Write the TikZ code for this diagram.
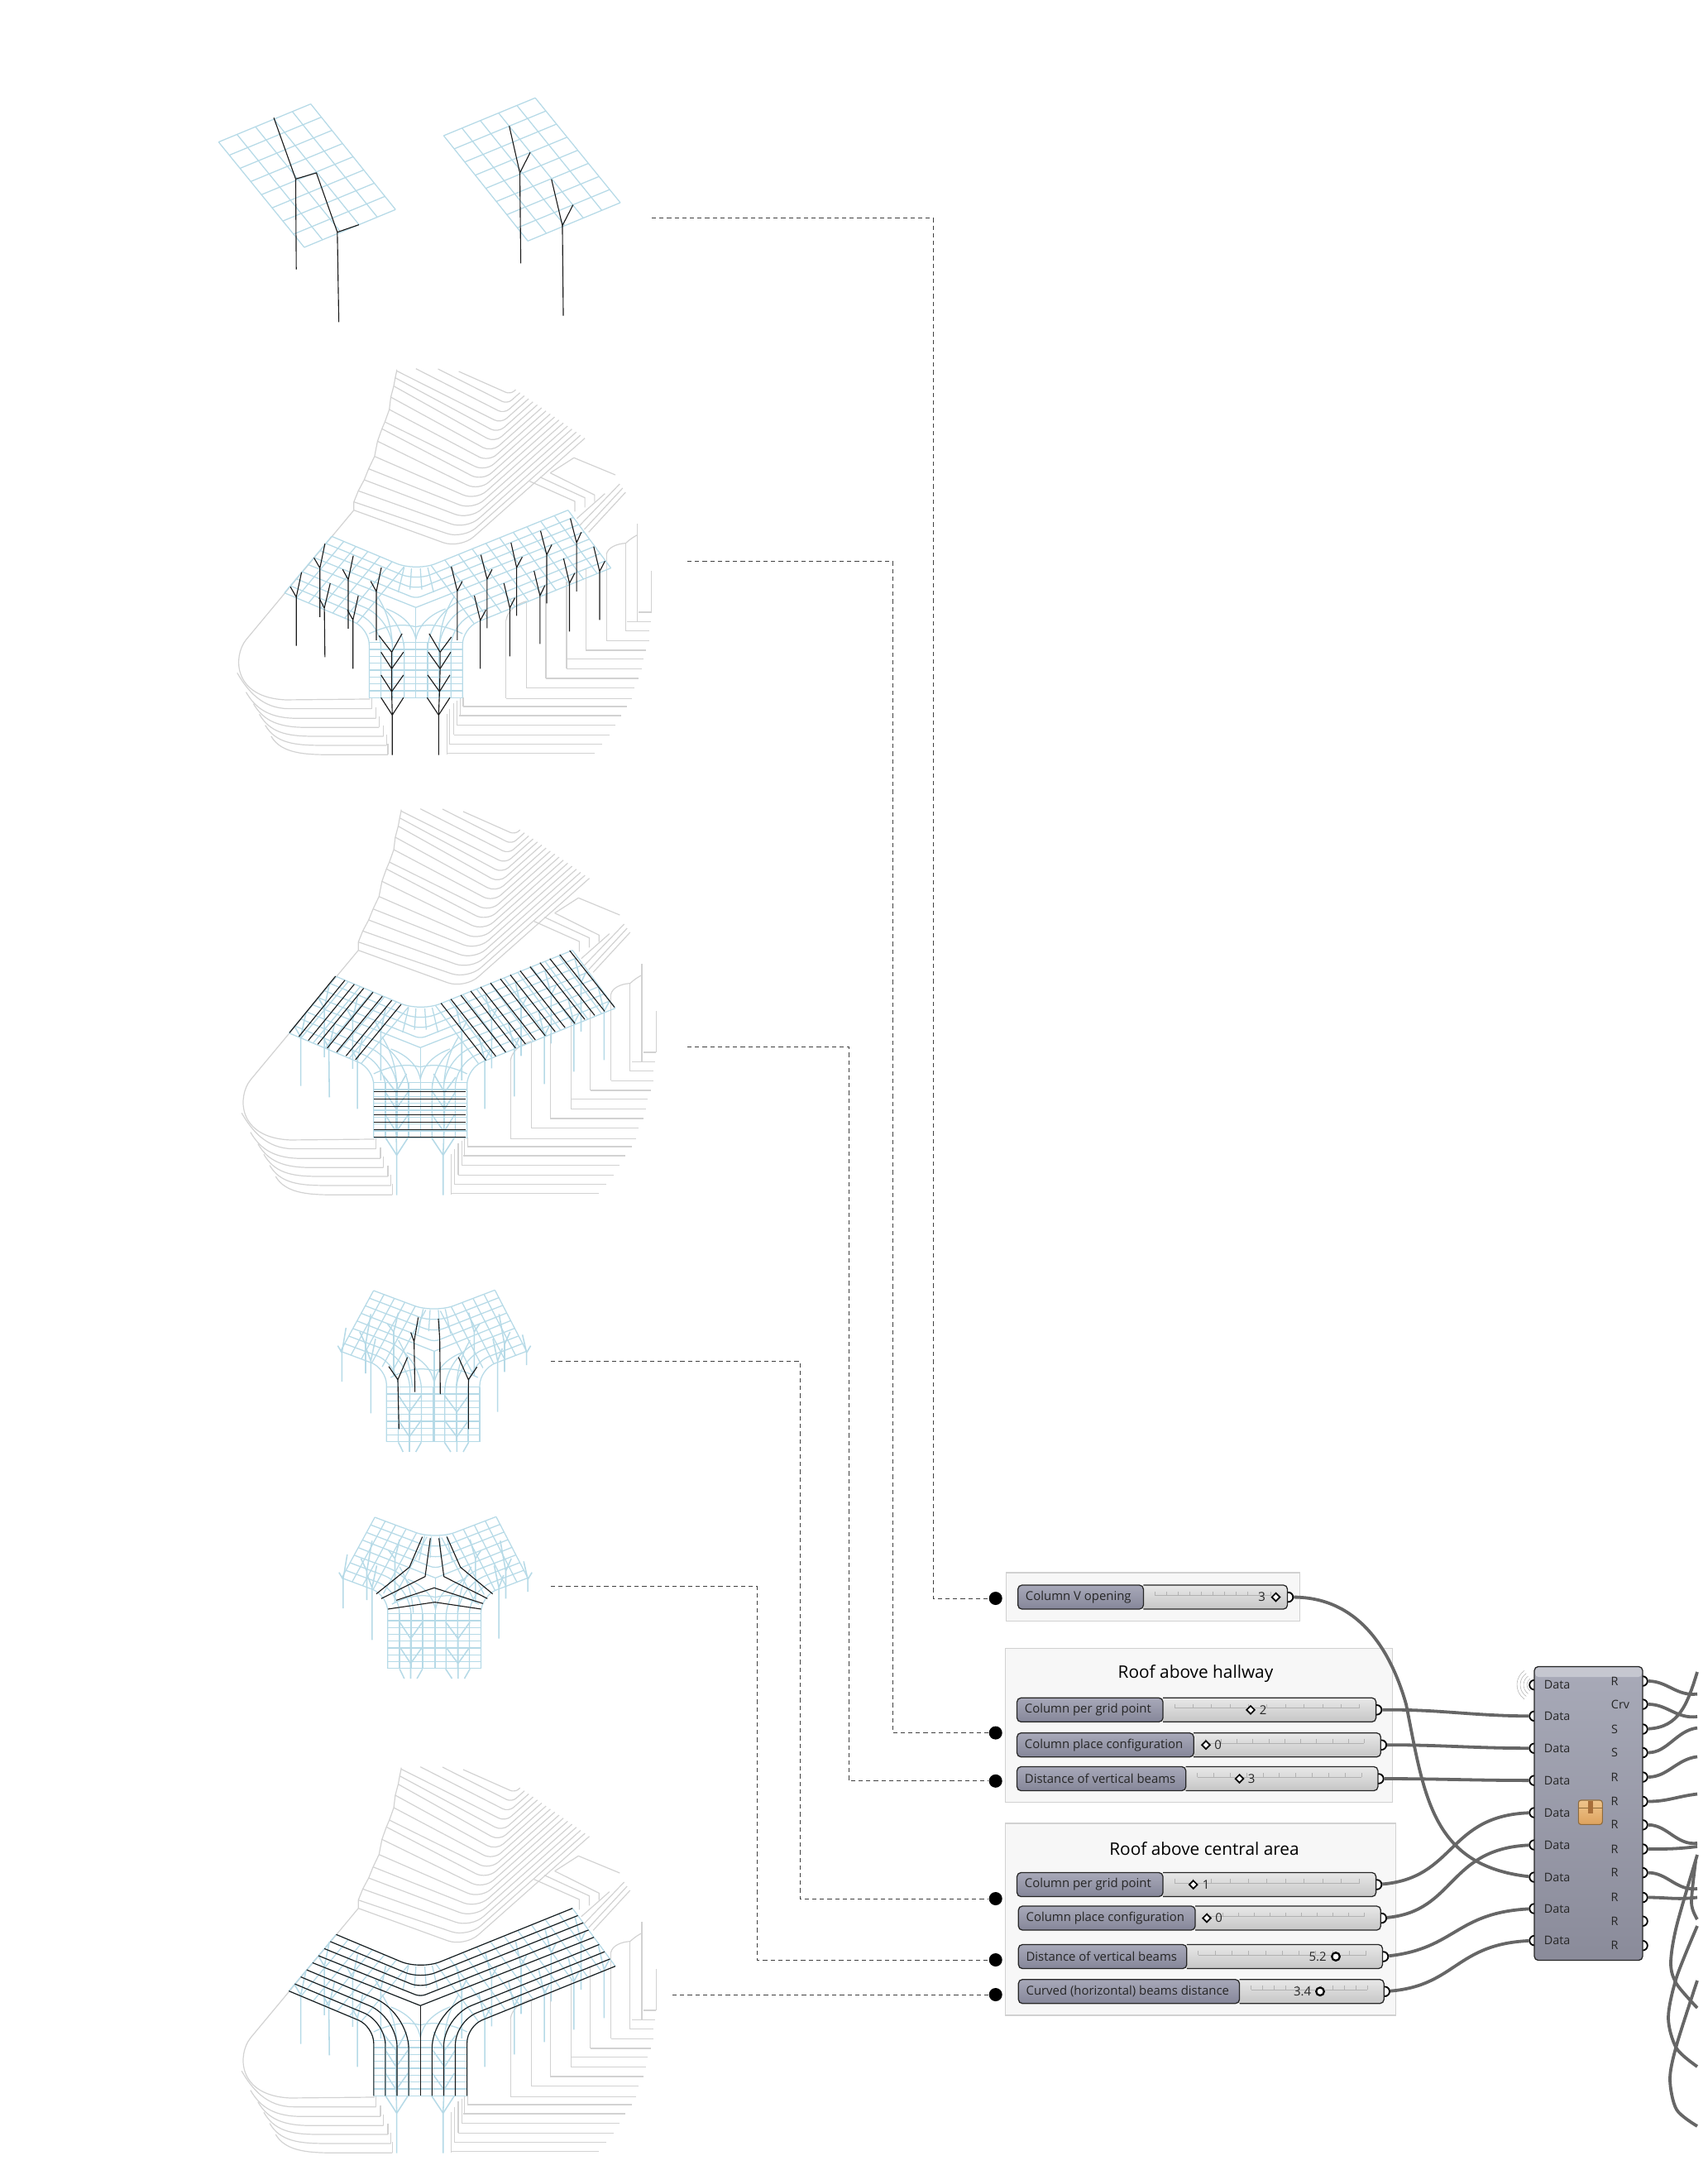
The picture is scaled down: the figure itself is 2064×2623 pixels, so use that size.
\documentclass[tikz,border=0pt]{standalone}
\usepackage{fontspec}
\setmainfont{Open Sans}
\usetikzlibrary{calc,shapes.geometric}
\definecolor{planGray}{HTML}{D2D2D2}
\definecolor{roofBlue}{HTML}{B6DAE7}
\definecolor{beamBlack}{HTML}{1A1A1A}
\definecolor{wireGray}{HTML}{666666}
\definecolor{labelTop}{HTML}{A8A9B9}
\definecolor{labelLow}{HTML}{858699}
\definecolor{bodyTop}{HTML}{E8E8E8}
\definecolor{bodyLow}{HTML}{C6C6C6}
\definecolor{clusterTop}{HTML}{A8AAB8}
\definecolor{clusterLow}{HTML}{8A8B9A}
\definecolor{boxTop}{HTML}{EFC58C}
\definecolor{boxLow}{HTML}{DDA25E}
\definecolor{boxEdge}{HTML}{8F6B3C}
\definecolor{boxTape}{HTML}{A86F3A}
\tikzset{
  plan/.style={planGray,line width=0.85pt},
  roof/.style={roofBlue,line width=0.9pt},
  beam/.style={beamBlack,line width=0.8pt},
  column/.style={roofBlue,line width=1.1pt},
  dashline/.style={black!75,line width=0.5pt,dash pattern=on 1.3mm off 1mm},
  dot/.style={circle,fill=black,inner sep=0,minimum size=4mm},
  wire/.style={wireGray,line width=0.95mm},
  port/.style={circle,draw=black,line width=1.3pt,fill=white,inner sep=0,minimum size=2.9mm},
  group/.style={draw=black!18,fill=black!3,line width=0.8pt},
  label/.style={font=\fontsize{10.6}{12}\selectfont,text=black!85,inner sep=0},
  titlelabel/.style={font=\fontsize{14.8}{17}\selectfont,text=black,inner sep=0},
  portlabel/.style={font=\fontsize{10.2}{12}\selectfont,text=black!85,inner sep=0},
  bigview/.style={xscale=0.3571,yscale=0.3333},
  smallview/.style={xscale=0.3333,yscale=0.3333},
  handle/.style={draw=black,line width=1.2pt,fill=white,inner sep=0},
}

% shape of the roof: arm corners, then valley and leg
\newcommand{\setarms}[8]{\def\ltx{#1}\def\lty{#2}\def\lbx{#3}\def\lby{#4}\def\rtx{#5}\def\rty{#6}\def\rbx{#7}\def\rby{#8}}
\newcommand{\setcore}[7]{\def\vx{#1}\def\vy{#2}\def\vdy{#3}\def\legl{#4}\def\legr{#5}\def\legt{#6}\def\legb{#7}}
\newcommand{\setcells}[2]{\def\cellsL{#1}\def\cellsR{#2}}

% long lines of the roof
\newcommand{\roofbeams}[1]{
  \pgfmathsetmacro{\sL}{(\vy-\lty)/(\vx-\ltx)}
  \pgfmathsetmacro{\sR}{(\vy-\rty)/(\rtx-\vx)}
  \foreach \k in {0,...,4}{
    \pgfmathsetmacro{\tf}{\k/8}
    \pgfmathsetmacro{\rr}{(4-\k)*1.6+0.01}
    \draw[#1,rounded corners=\rr mm] ({\ltx+(\lbx-\ltx)*\tf},{\lty+(\lby-\lty)*\tf})
      -- ({\vx},{\vy+\vdy*\tf}) -- ({\rtx+(\rbx-\rtx)*\tf},{\rty+(\rby-\rty)*\tf});
  }
  \draw[#1] (\vx,{\vy+\vdy/2}) -- (\vx,\legb);
  \foreach \k in {5,...,8}{
    \pgfmathsetmacro{\tf}{\k/8}
    \pgfmathsetmacro{\rr}{5+2*(8-\k)}
    \pgfmathsetmacro{\px}{\ltx+(\lbx-\ltx)*\tf}
    \pgfmathsetmacro{\py}{\lty+(\lby-\lty)*\tf}
    \pgfmathsetmacro{\qx}{\rtx+(\rbx-\rtx)*\tf}
    \pgfmathsetmacro{\qy}{\rty+(\rby-\rty)*\tf}
    \pgfmathsetmacro{\xl}{\legl+(\legr-\legl)*(8-\k)/8}
    \pgfmathsetmacro{\xr}{\legr-(\legr-\legl)*(8-\k)/8}
    \draw[#1,rounded corners=\rr mm] (\px,\py) -- (\xl,{\py+(\xl-\px)*\sL}) -- (\xl,\legb);
    \draw[#1,rounded corners=\rr mm] (\qx,\qy) -- (\xr,{\qy+(\qx-\xr)*\sR}) -- (\xr,\legb);
  }
}

% cross lines of the roof
\newcommand{\roofcross}{
  \foreach \j in {0,...,\cellsL}{
    \pgfmathsetmacro{\fx}{0.86*\j/\cellsL}
    \pgfmathsetmacro{\px}{\ltx+(\vx-\ltx)*\fx}
    \pgfmathsetmacro{\py}{\lty+(\vy-\lty)*\fx}
    \draw[roof] (\px,\py) -- ({\px+\lbx-\ltx},{\py+\lby-\lty});
  }
  \foreach \j in {0,...,\cellsR}{
    \pgfmathsetmacro{\fx}{0.9*\j/\cellsR}
    \pgfmathsetmacro{\px}{\rtx+(\vx-\rtx)*\fx}
    \pgfmathsetmacro{\py}{\rty+(\vy-\rty)*\fx}
    \draw[roof] (\px,\py) -- ({\px+\rbx-\rtx},{\py+\rby-\rty});
  }
  \foreach \j in {0,...,8}{
    \draw[roof] ({\legl+(\legr-\legl)*\j/8},\legt) -- ({\legl+(\legr-\legl)*\j/8},\legb);
    \draw[roof] (\legl,{\legt+(\legb-\legt)*\j/8}) -- (\legr,{\legt+(\legb-\legt)*\j/8});
  }
  \pgfmathsetmacro{\midy}{\vy+\vdy/2}
  \foreach \sg in {-1,1}{
    \draw[roof] ({\vx+\sg*100},{\midy+5}) .. controls ({\vx+\sg*50},{\midy+25}) and ({\vx+\sg*10},{\midy+60}) .. (\vx,{\midy+115});
    \draw[roof] ({\vx+\sg*130},{\midy-40}) .. controls ({\vx+\sg*95},{\midy+20}) and ({\vx+\sg*85},{\midy+70}) .. ({\vx+\sg*80},{\midy+127});
    \draw[roof] ({\vx+\sg*40},{\vy-15}) -- ({\vx+\sg*60},{\vy+75});
    \draw[roof] ({\vx+\sg*15},{\vy-12}) -- ({\vx+\sg*20},{\vy+65});
    \draw[roof] ({\vx+\sg*158},{\midy+95}) .. controls ({\vx+\sg*90},{\midy+60}) and ({\vx+\sg*40},{\midy+60}) .. (\vx,{\midy+70});
  }
}

% columns with a fork: foot, fork, two tips
\newcommand{\bigcolumns}[1]{
  \foreach \bx/\by/\fx/\fy/\ax/\ay/\cx/\cy in {
    275/1052/275/875/255/838/293/785, 355/948/355/770/335/733/372/682,
    372/1093/370/915/352/878/390/825, 451/990/451/812/432/775/468/725,
    467/1135/467/958/448/922/485/870, 546/1032/546/855/527/818/563/768,
    820/1032/820/853/837/818/800/765, 898/1135/898/960/917/922/878/870,
    921/988/921/810/938/775/900/722, 998/1090/998/915/1015/878/978/825,
    1021/943/1021/768/1040/730/1002/678, 1100/1045/1100/870/1117/833/1080/780,
    1123/898/1123/722/1140/685/1102/635, 1200/1000/1200/825/1218/788/1180/735,
    1224/855/1224/678/1240/640/1203/590, 1302/958/1302/782/1320/745/1282/692,
    600/1448/600/1303/562/1240/638/1240, 600/1303/598/1218/562/1158/638/1158,
    598/1218/598/1135/562/1075/638/1075, 598/1135/598/1075/555/1015/633/1008,
    757/1448/757/1303/718/1240/795/1240, 757/1303/760/1218/720/1158/795/1158,
    760/1218/762/1135/722/1075/798/1075, 762/1135/762/1075/725/1008/800/1020}{
    \draw[#1] (\bx,\by) -- (\fx,\fy) -- (\ax,\ay) (\fx,\fy) -- (\cx,\cy);
  }
}
\newcommand{\smallcolumns}{
  \foreach \bx/\by/\fx/\fy/\ax/\ay/\cx/\cy in {
    100/420/100/315/85/290/115/225, 186/390/186/285/165/240/205/175,
    205/535/205/345/188/300/222/265, 288/400/288/240/265/210/305/170,
    770/360/770/315/755/250/785/290, 690/385/690/285/670/175/710/240,
    665/530/665/345/648/265/682/300, 580/400/580/240/560/170/600/210,
    345/675/345/620/305/560/388/560, 345/620/345/530/305/470/388/470,
    517/675/517/620/472/560/560/560, 517/620/517/530/472/470/560/470,
    322/675/322/675/305/640/305/640, 368/675/368/675/388/640/388/640,
    495/675/495/675/472/640/472/640, 540/675/540/675/560/640/560/640}{
    \draw[column] (\bx,\by) -- (\fx,\fy) -- (\ax,\ay) (\fx,\fy) -- (\cx,\cy);
  }
}

% the gray building under the roof
\newcommand{\buildingplan}{
  \foreach \sx/\sy [count=\i from 0] in {825/57,755/48,680/47,615/55,610/80,605/110,595/150,590/195,
      575/240,565/265,550/310,540/365,520/410,505/450,485/490,470/530,470/560}{
    \pgfmathsetmacro{\fc}{\i/16}
    \pgfmathsetmacro{\cx}{1000-170*\fc}
    \pgfmathsetmacro{\cy}{140+560*\fc}
    \pgfmathsetmacro{\ex}{(\cy-110+0.95*\cx+750)/1.7}
    \pgfmathsetmacro{\rr}{1.5+4*\fc}
    \draw[plan,rounded corners=\rr mm] (\sx,\sy) -- (\cx,\cy) -- (\ex,{110+0.75*(\ex-1000)});
  }
  \draw[plan] (615,50) -- (615,55) -- (610,80) -- (605,110) -- (595,150) -- (590,195) -- (575,240) -- (565,265)
    -- (550,310) -- (540,365) -- (520,410) -- (505,450) -- (485,490) -- (470,530) -- (470,560);
  % left side
  \draw[plan] (470,560) -- (105,1030) .. controls (60,1090) and (60,1240) .. (240,1248) -- (525,1245);
  \foreach \ax/\ay/\cx/\cy/\ex in {75/1150/250/1280/530, 105/1220/280/1315/545,
      130/1262/310/1348/555, 150/1300/330/1380/570, 170/1340/360/1413/580, 190/1380/400/1447/585}{
    \draw[plan] (\ax,\ay) .. controls ({\ax+35},{\ay+65}) and ({\cx-90},\cy) .. (\cx,\cy) -- (\ex,\cy);
    \draw[plan] (\ex,{\cy-40}) -- (\ex,\cy);
  }
  % right side
  \foreach \yy/\xa/\xb in {1243/985/1410,1205/1055/1420,1170/1120/1435,1135/1190/1445,1100/1190/1450,
      1068/1255/1460,1033/1325/1470,998/1390/1470,965/1395/1475,930/1435/1478,1272/840/1395,
      1305/825/1375,1340/820/1355,1375/808/1335,1408/795/1310,1441/785/1285}{
    \draw[plan] (\xa,\yy) -- (\xb,\yy);
  }
  \foreach \xx/\ya/\yb in {985/960/1243,1055/890/1205,1120/860/1170,1190/820/1135,1255/770/1068,
      1325/720/1033,1390/680/998,1430/610/965,1478/780/930,785/1300/1445,795/1280/1410,
      808/1260/1375,820/1250/1340,830/1240/1305,840/1240/1272}{
    \draw[plan] (\xx,\ya) -- (\xx,\yb);
  }
  \draw[plan] (985,960) .. controls (990,925) and (1020,900) .. (1055,890);
  \draw[plan] (1325,720) .. controls (1330,695) and (1360,682) .. (1390,680) .. controls (1405,665) and (1420,655) .. (1430,650);
  % short terraces on the right
  \foreach \ax/\ay/\bx/\by/\cy in {1065/455/1218/528/565,1100/440/1252/515/550,1135/425/1285/505/530,1215/370/1355/432/432}{
    \draw[plan] (\ax,\ay) -- (\bx,\by) -- (\bx,\cy);
  }
  \draw[plan] (1135,425) -- (1215,370);
  \foreach \ax/\ay/\bx/\by in {1225/590/1320/500,1235/615/1370/465,1250/630/1380/480,1265/640/1390/495}{
    \draw[plan] (\ax,\ay) -- (\bx,\by);
  }
}

% one slider: id, left, right, split, middle, label, value, value x
\newcommand{\slider}[8]{
  \node[port] (#1out) at (#3+1,#5) {};
  \draw[black!85,line width=0.9pt,rounded corners=1.2mm,top color=bodyTop,bottom color=bodyLow] (#4,#5-14.5) -- (#3,#5-14.5) -- (#3,#5+14.5) -- (#4,#5+14.5);
  \draw[black!85,line width=0.9pt,rounded corners=1.2mm,top color=labelTop,bottom color=labelLow] (#4,#5-14.5) -- (#2,#5-14.5) -- (#2,#5+14.5) -- (#4,#5+14.5) -- cycle;
  \draw[black!30,line width=0.5pt] (#4+14,#5-2) -- (#3-20,#5-2);
  \foreach \i in {0,...,10}{
    \draw[black!30,line width=0.5pt] ({#4+14+(#3-#4-34)*\i/10},#5-7) -- ({#4+14+(#3-#4-34)*\i/10},#5-2);
  }
  \node[label,anchor=west] (#1lab) at (#2+9,#5) {#6};
  \node[label] (#1val) at (#8,#5) {#7};
}

\begin{document}
\begin{tikzpicture}[x=0.25mm,y=-0.25mm]
  \useasboundingbox (0,0) rectangle (2064,2623);

  % first row: two grids
  \begin{scope}[shift={(240,90)},xscale=0.3571,yscale=0.3333]
    \foreach \ax/\ay/\bx/\by/\cx/\cy/\dx/\dy in {68/245/380/107/667/490/358/627,830/222/1140/85/1428/465/1115/604}{
      \coordinate (ga) at (\ax,\ay);
      \coordinate (gb) at (\bx,\by);
      \coordinate (gc) at (\cx,\cy);
      \coordinate (gd) at (\dx,\dy);
      \foreach \i in {0,...,5}{
        \draw[roof] ($(ga)!\i/5!(gb)$) -- ($(gd)!\i/5!(gc)$);
      }
      \foreach \i in {0,...,8}{
        \draw[roof] ($(ga)!\i/8!(gd)$) -- ($(gb)!\i/8!(gc)$);
      }
    }
    \draw[beam] (255,157) -- (329,379) -- (399,357) -- (470,572) -- (543,545);
    \draw[beam] (329,379) -- (331,707);
    \draw[beam] (470,572) -- (475,898);
    \draw[beam] (1052,187) -- (1088,357) -- (1123,283);
    \draw[beam] (1088,357) -- (1091,685);
    \draw[beam] (1195,380) -- (1232,548) -- (1268,473);
    \draw[beam] (1232,548) -- (1235,875);
  \end{scope}

  % big roofs
  \setarms{395}{655}{235}{860}{1195}{560}{1340}{770}
  \setcore{680}{783}{260}{522}{838}{1040}{1240}
  \setcells{6}{10}
  \begin{scope}[shift={(260,430)},bigview]
    \buildingplan
    \roofbeams{roof}
    \roofcross
    \bigcolumns{beam}
  \end{scope}
  \begin{scope}[shift={(265.4,962)},bigview]
    \buildingplan
    \roofbeams{roof}
    \roofcross
    \bigcolumns{column}
  \end{scope}
  \begin{scope}[shift={(260,960)},bigview]
    \foreach \i in {0,...,7}{
      \draw[beam] ({408+\i*31.7},{660+\i*14.6}) -- ({252+\i*31.9},{865+\i*14});
    }
    \foreach \i in {0,...,13}{
      \draw[beam] ({765+\i*33.5},{758-\i*14.7}) -- ({917+\i*33.5},{965-\i*14.8});
    }
    \foreach \i in {0,...,6}{
      \draw[beam] (538,{1078+\i*27.8}) -- (848,{1078+\i*27.8});
    }
  \end{scope}
  \begin{scope}[shift={(265.4,2120)},bigview]
    \buildingplan
    \roofbeams{roof}
    \roofcross
    \bigcolumns{column}
    \roofbeams{beam}
  \end{scope}

  % small roofs
  \setarms{215}{90}{95}{310}{655}{88}{770}{310}
  \setcore{435}{172}{276}{262}{600}{440}{638}
  \setcells{5}{5}
  \begin{scope}[shift={(380,1530)},smallview]
    \roofbeams{roof}
    \roofcross
    \smallcolumns
    \foreach \bx/\by/\fx/\fy/\ax/\ay/\cx/\cy in {307/592/303/413/270/365/338/332,365/458/362/275/350/242/377/187,
        457/465/455/265/450/192/450/192,559/592/559/413/523/332/590/367}{
      \draw[beam] (\bx,\by) -- (\fx,\fy) -- (\ax,\ay) (\fx,\fy) -- (\cx,\cy);
    }
  \end{scope}
  \begin{scope}[shift={(381.5,1804)},smallview]
    \roofbeams{roof}
    \roofcross
    \smallcolumns
  \end{scope}
  \begin{scope}[shift={(380,1530)},smallview]
    \draw[beam] (392,983) -- (345,1093) -- (225,1190);
    \draw[beam] (421,988) -- (402,1127) -- (243,1207);
    \draw[beam] (298,1213) -- (435,1168) -- (612,1225);
    \draw[beam] (267,1245) -- (437,1220) -- (605,1245);
    \draw[beam] (452,988) -- (470,1127) -- (628,1207);
    \draw[beam] (481,983) -- (530,1093) -- (647,1190);
  \end{scope}

  % groups
  \draw[group] (1216.6,1901) rectangle (1571.8,1959.5);
  \draw[group] (1215.5,1992.8) rectangle (1683.4,2178.8);
  \draw[group] (1215.5,2204) rectangle (1687.3,2436);
  \node[titlelabel] (hallway) at (1445.5,2022.6) {Roof above hallway};
  \node[titlelabel] (central) at (1456,2234.3) {Roof above central area};

  % sliders
  \slider{sa}{1230.7}{1556.5}{1382.4}{1930.5}{Column V opening}{3}{1525.5}
  \slider{sb}{1229.6}{1663.6}{1406}{2066.8}{Column per grid point}{2}{1527}
  \slider{sc}{1229.6}{1669.3}{1443.2}{2109.2}{Column place configuration}{0}{1472.6}
  \slider{sd}{1229.6}{1665.9}{1433.7}{2150}{Distance of vertical beams}{3}{1513}
  \slider{se}{1229.6}{1663.6}{1406}{2278}{Column per grid point}{1}{1458}
  \slider{sf}{1231.3}{1669.3}{1445}{2318.5}{Column place configuration}{0}{1473.7}
  \slider{sg}{1231.3}{1671.5}{1434.8}{2365}{Distance of vertical beams}{5.2}{1593}
  \slider{sh}{1231.3}{1673.2}{1498.5}{2407.2}{Curved (horizontal) beams distance}{3.4}{1574.6}
  \foreach \h/\hx/\hy in {a/1542.5/1930.5,b/1512/2066.8,c/1458/2109.2,d/1498.5/2150,e/1442.7/2278,f/1459/2318.5}{
    \node[handle,diamond,minimum size=2.6mm] (h\h) at (\hx,\hy) {};
  }
  \node[handle,circle,minimum size=2.4mm,line width=1.6pt] (hg) at (1615,2365) {};
  \node[handle,circle,minimum size=2.4mm,line width=1.6pt] (hh) at (1596,2407.2) {};

  % cluster
  \foreach \yy [count=\i] in {2036.6,2074.3,2113.2,2152.1,2191,2230,2269,2307,2345.6}{
    \node[port] (in\i) at (1855,\yy) {};
  }
  \foreach \yy [count=\i] in {2032,2060,2090,2118.5,2148,2177.5,2205.8,2235,2263.6,2293.5,2322.2,2351.7}{
    \node[port] (out\i) at (1986,\yy) {};
  }
  \node[rectangle,rounded corners=1.2mm,draw=black!85,line width=0.9pt,top color=clusterTop,bottom color=clusterLow,minimum width=32.75mm,minimum height=88.75mm] (cluster) at (1920.5,2192) {};
  \fill[white,opacity=0.35,rounded corners=1mm] (1856,2015.5) rectangle (1985,2027);
  \foreach \yy [count=\i] in {2036.6,2074.3,2113.2,2152.1,2191,2230,2269,2307,2345.6}{
    \node[portlabel] (data\i) at (1882.7,\yy) {Data};
  }
  \foreach \yy/\txt/\xx [count=\i] in {2032/R/1952,2060/Crv/1959,2090/S/1952,2118.5/S/1952,2148/R/1952,2177.5/R/1952,
      2205.8/R/1952,2235/R/1952,2263.6/R/1952,2293.5/R/1952,2322.2/R/1952,2351.7/R/1952}{
    \node[portlabel] (res\i) at (\xx,\yy) {\txt};
  }
  \foreach \rr in {9,13,17,21}{
    \draw[black!30,line width=0.4pt] ([shift={(125:\rr)}]in1.center) arc (125:235:\rr);
  }
  % box icon
  \draw[boxEdge,line width=0.8pt,rounded corners=0.8mm,top color=boxTop,bottom color=boxLow] (1908.3,2176) rectangle (1937.3,2205.4);
  \draw[boxEdge,line width=0.5pt] (1908.3,2185) -- (1937.3,2185);
  \fill[boxTape] (1920,2176.5) rectangle (1926,2192);

  % connectors
  \coordinate (viewa) at (788,263);
  \coordinate (viewb) at (831,678);
  \coordinate (viewc) at (831,1265);
  \coordinate (viewd) at (666,1645);
  \coordinate (viewe) at (666,1917);
  \coordinate (viewf) at (813,2411);
  \node[dot] (dota) at (1203.7,1932) {};
  \node[dot] (dotb) at (1203.7,2094.6) {};
  \node[dot] (dotc) at (1203.7,2152.8) {};
  \node[dot] (dotd) at (1203.7,2295) {};
  \node[dot] (dote) at (1203.7,2369) {};
  \node[dot] (dotf) at (1203.7,2411) {};
  \draw[dashline] (viewa) -| (1128,1932) -- (dota);
  \draw[dashline] (viewb) -| (1079,2094.6) -- (dotb);
  \draw[dashline] (viewc) -| (1026,2152.8) -- (dotc);
  \draw[dashline] (viewd) -| (967,2295) -- (dotd);
  \draw[dashline] (viewe) -| (915,2369) -- (dote);
  \draw[dashline] (viewf) -- (dotf);

  % wires
  \draw[wire] (saout) .. controls (1640,1931) and (1680,1990) .. (1700,2060) .. controls (1722,2170) and (1730,2255) .. (in7);
  \draw[wire] (sbout) .. controls (1740,2066) and (1780,2074) .. (in2);
  \draw[wire] (scout) .. controls (1740,2109) and (1780,2113) .. (in3);
  \draw[wire] (sdout) .. controls (1740,2150) and (1780,2152) .. (in4);
  \draw[wire] (seout) .. controls (1760,2270) and (1750,2195) .. (in5);
  \draw[wire] (sfout) .. controls (1760,2310) and (1750,2235) .. (in6);
  \draw[wire] (sgout) .. controls (1760,2355) and (1760,2312) .. (in8);
  \draw[wire] (shout) .. controls (1760,2400) and (1760,2350) .. (in9);
  \foreach \o/\yy in {1/2047.6,2/2075,4/2088.6,5/2123.4,6/2168.5,7/2228,8/2232,9/2283,10/2293.5}{
    \coordinate (wire\o) at (2052,\yy);
    \draw[wire] (out\o) .. controls +(30,0) and +(-25,3) .. (wire\o);
  }
  \coordinate (wire3) at (2052,2021);
  \draw[wire] (out3) .. controls (2030,2088) and (2040,2060) .. (wire3);
  \draw[wire] plot[smooth] coordinates {(2052,2242) (2027,2328) (2020,2373) (2027,2398) (2052,2427)};
  \draw[wire] plot[smooth] coordinates {(2050,2250) (2045,2300) (2052,2320)};
  \draw[wire] plot[smooth] coordinates {(2052,2328) (2027,2390) (2017,2439) (2027,2476) (2052,2498)};
  \draw[wire] plot[smooth] coordinates {(2052,2394) (2027,2472) (2019,2513) (2027,2550) (2052,2570)};
\end{tikzpicture}
\end{document}
